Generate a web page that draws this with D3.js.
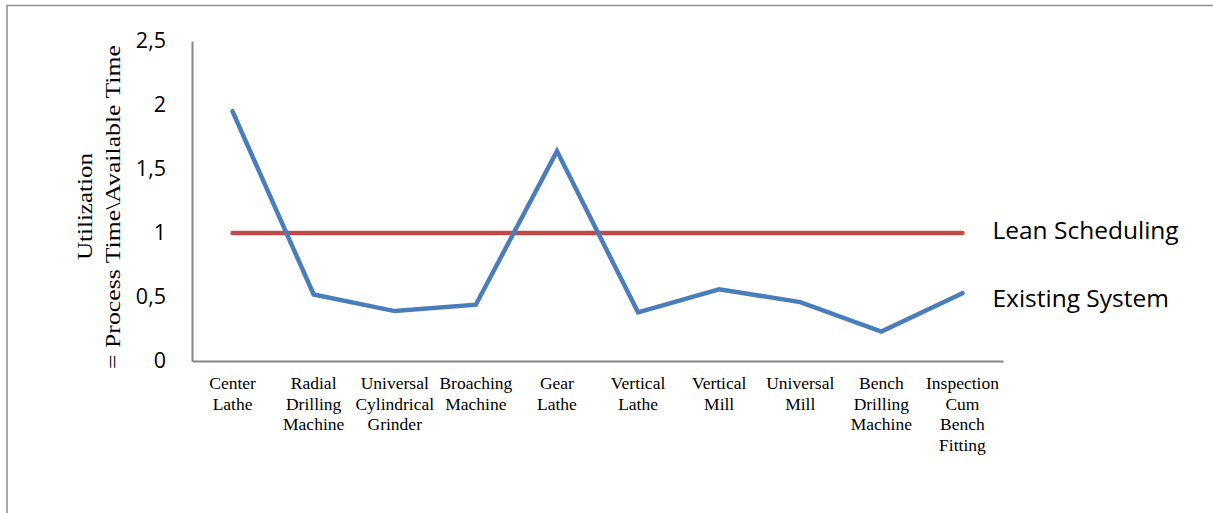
<!DOCTYPE html>
<html>
<head>
<meta charset="utf-8">
<script src="https://cdn.jsdelivr.net/npm/d3@7"></script>
<style>
  html, body { margin: 0; padding: 0; background: #fff; }
  svg { display: block; }
</style>
</head>
<body>
<div id="chart"></div>
<script>
// Machines along the x axis (each label split into its printed lines)
const categories = [
  ["Center", "Lathe"],
  ["Radial", "Drilling", "Machine"],
  ["Universal", "Cylindrical", "Grinder"],
  ["Broaching", "Machine"],
  ["Gear", "Lathe"],
  ["Vertical", "Lathe"],
  ["Vertical", "Mill"],
  ["Universal", "Mill"],
  ["Bench", "Drilling", "Machine"],
  ["Inspection", "Cum", "Bench", "Fitting"]
];
const existingSystem = [1.95, 0.52, 0.39, 0.44, 1.64, 0.38, 0.56, 0.46, 0.23, 0.53];
const leanScheduling = [1, 1, 1, 1, 1, 1, 1, 1, 1, 1];
const yTicks = [0, 0.5, 1, 1.5, 2, 2.5];
const seriesNames = ["Lean Scheduling", "Existing System"];

const W = 1213, H = 513;
const plot = { left: 192, right: 1003, top: 41, bottom: 361 };

const svg = d3.select("#chart").append("svg")
  .attr("width", W).attr("height", H);

// outer frame
svg.append("rect")
  .attr("x", 7).attr("y", 5.5)
  .attr("width", W + 20).attr("height", H + 20)
  .attr("fill", "none").attr("stroke", "#8c8c8c").attr("stroke-width", 1.5);

const keys = categories.map((c, i) => i);
const x = d3.scaleBand().domain(keys).range([plot.left, plot.right]);
const y = d3.scaleLinear().domain([0, 2.5]).range([plot.bottom, plot.top]);
const xc = i => x(i) + x.bandwidth() / 2;

// y axis
const yAxis = svg.append("g")
  .attr("transform", `translate(${plot.left},0)`)
  .call(d3.axisLeft(y).tickValues(yTicks).tickSize(0).tickPadding(26)
    .tickFormat(d => d3.format("")(d).replace(".", ",")));
yAxis.select(".domain").attr("stroke", "#868686").attr("stroke-width", 2);
yAxis.selectAll("text")
  .attr("font-family", "'Open Sans', 'Noto Sans', sans-serif")
  .attr("font-size", 21.5).attr("fill", "#000");

// x axis
const xAxis = svg.append("g")
  .attr("transform", `translate(0,${plot.bottom})`)
  .call(d3.axisBottom(x).tickSize(0).tickFormat(""));
xAxis.select(".domain").attr("stroke", "#868686").attr("stroke-width", 2);

// category labels, multi-line
xAxis.selectAll(".tick").each(function (d) {
  const t = d3.select(this).append("text")
    .attr("text-anchor", "middle")
    .attr("font-family", "'Liberation Serif', 'DejaVu Serif', serif")
    .attr("font-size", 17.5).attr("fill", "#000");
  categories[d].forEach((line, k) => {
    t.append("tspan").attr("x", 0).attr("y", 28 + k * 20.5).text(line);
  });
});

// y axis title
const yTitle = svg.append("g")
  .attr("transform", `translate(0,207) rotate(-90)`)
  .attr("font-family", "'Liberation Serif', 'DejaVu Serif', serif")
  .attr("font-size", 22).attr("fill", "#000");
yTitle.append("text").attr("x", -53).attr("y", 92)
  .attr("textLength", 107).attr("lengthAdjust", "spacingAndGlyphs")
  .text("Utilization");
yTitle.append("text").attr("x", -162).attr("y", 120)
  .attr("textLength", 324).attr("lengthAdjust", "spacingAndGlyphs")
  .text("= Process Time\\Available Time");

// series lines
const line = d3.line().x((d, i) => xc(i)).y(d => y(d));
const series = [
  { name: seriesNames[0], values: leanScheduling, color: "#be4b48" },
  { name: seriesNames[1], values: existingSystem, color: "#4a7ebb" }
];
series.forEach(s => {
  svg.append("path")
    .datum(s.values)
    .attr("d", line)
    .attr("fill", "none")
    .attr("stroke", s.color)
    .attr("stroke-width", 4.5)
    .attr("stroke-linecap", "round")
    .attr("stroke-linejoin", "miter");
});

// series labels at the right end of each line
const labelOffsets = [-1, 7];
series.forEach((s, k) => {
  const last = s.values[s.values.length - 1];
  svg.append("text")
    .attr("x", xc(s.values.length - 1) + 30)
    .attr("y", y(last) + labelOffsets[k])
    .attr("dominant-baseline", "middle")
    .attr("font-family", "'Open Sans', 'Noto Sans', sans-serif")
    .attr("font-size", 24.5).attr("fill", "#000")
    .text(s.name);
});
</script>
</body>
</html>
